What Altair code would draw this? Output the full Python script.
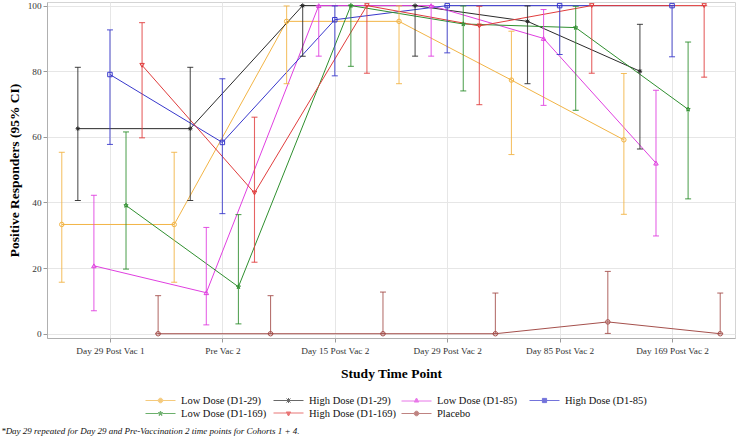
import altair as alt
import pandas as pd

# ---------------- data ----------------
timepoints = ["Day 29 Post Vac 1", "Pre Vac 2", "Day 15 Post Vac 2",
              "Day 29 Post Vac 2", "Day 85 Post Vac 2", "Day 169 Post Vac 2"]

series_names = ["Low Dose (D1-29)", "High Dose (D1-29)", "Low Dose (D1-85)",
                "High Dose (D1-85)", "Low Dose (D1-169)", "High Dose (D1-169)", "Placebo"]

colors = ["#F2B445", "#2B2B2B", "#E03FE0", "#3838CC", "#2F8F2F", "#E03C3C", "#A5504C"]

low29_val = [33.3, 33.3, 95.2, 95.2, 77.3, 59.1]
low29_lo = [15.7, 15.7, 76.2, 76.2, 54.6, 36.4]
low29_hi = [55.3, 55.3, 99.9, 99.9, 92.2, 79.3]

high29_val = [62.5, 62.5, 100.0, 100.0, 95.2, 80.0]
high29_lo = [40.6, 40.6, 84.6, 84.6, 76.2, 56.3]
high29_hi = [81.2, 81.2, 100.0, 100.0, 99.9, 94.3]

low85_val = [20.7, 12.5, 100.0, 100.0, 90.0, 52.0]
low85_lo = [7.0, 2.7, 84.6, 84.6, 69.6, 29.8]
low85_hi = [42.2, 32.4, 100.0, 100.0, 98.8, 74.2]

high85_val = [79.0, 58.3, 95.7, 100.0, 100.0, 100.0]
high85_lo = [57.7, 36.6, 78.6, 85.6, 85.1, 84.4]
high85_hi = [92.6, 77.7, 99.9, 100.0, 100.0, 100.0]

low169_val = [39.1, 14.3, 100.0, 94.4, 93.3, 68.4]
low169_lo = [19.7, 3.0, 81.5, 74.0, 68.1, 41.1]
low169_hi = [61.5, 36.3, 100.0, 99.9, 99.8, 88.9]

high169_val = [81.8, 42.9, 100.0, 93.8, 100.0, 100.0]
high169_lo = [59.7, 21.8, 79.4, 69.8, 79.4, 78.2]
high169_hi = [94.8, 66.0, 100.0, 99.8, 100.0, 100.0]

placebo_val = [0.0, 0.0, 0.0, 0.0, 3.6, 0.0]
placebo_lo = [0.0, 0.0, 0.0, 0.0, 0.1, 0.0]
placebo_hi = [11.6, 11.6, 12.7, 12.4, 19.0, 12.4]

footnote = "*Day 29 repeated for Day 29 and Pre-Vaccination 2 time points for Cohorts 1 + 4."

values = [low29_val, high29_val, low85_val, high85_val, low169_val, high169_val, placebo_val]
lows = [low29_lo, high29_lo, low85_lo, high85_lo, low169_lo, high169_lo, placebo_lo]
highs = [low29_hi, high29_hi, low85_hi, high85_hi, low169_hi, high169_hi, placebo_hi]

rows = []
for k, name in enumerate(series_names):
    for t in range(len(timepoints)):
        rows.append({"series": name, "k": k, "t": t,
                     "value": values[k][t], "lo": lows[k][t], "hi": highs[k][t]})
df = pd.DataFrame(rows)

# ---------------- styling ----------------
FONT = "Liberation Serif"

star = ("M0,-1L0.235,-0.324L0.951,-0.309L0.380,0.124L0.588,0.809L0,0.4"
        "L-0.588,0.809L-0.380,0.124L-0.951,-0.309L-0.235,-0.324Z")
asterisk = "M-1,0H1M0,-1V1M-0.7,-0.7L0.7,0.7M-0.7,0.7L0.7,-0.7"
point_shapes = ["circle", asterisk, "triangle-up", "square", star, "triangle-down", "circle"]

# legend symbols: a short line with the marker in the middle (1 unit = 5 px)
leg_circle = "M-3,0H-0.46M0.46,0H3M-0.46,0A0.46,0.46 0 1,0 0.46,0A0.46,0.46 0 1,0 -0.46,0"
leg_ast = "M-3,0H3M0,-0.5V0.5M-0.4,-0.4L0.4,0.4M-0.4,0.4L0.4,-0.4"
leg_tup = "M-3,0.1H-0.4M0.4,0.1H3M0,-0.5L0.46,0.3L-0.46,0.3Z"
leg_sq = "M-3,0H-0.42M0.42,0H3M-0.42,-0.42H0.42V0.42H-0.42Z"
leg_star = ("M-3,0H-0.45M0.45,0H3M0,-0.5L0.118,-0.162L0.476,-0.155L0.19,0.062L0.294,0.405L0,0.2"
            "L-0.294,0.405L-0.19,0.062L-0.476,-0.155L-0.118,-0.162Z")
leg_tdown = "M-3,-0.1H-0.4M0.4,-0.1H3M0,0.5L0.46,-0.3L-0.46,-0.3Z"
legend_paths = [leg_circle, leg_ast, leg_tup, leg_sq, leg_star, leg_tdown, leg_circle]

label_expr = "[" + ",".join("'" + s + "'" for s in timepoints) + "][datum.value]"

xscale = alt.Scale(domain=[-0.56, 5.56], nice=False, zero=False)
yscale = alt.Scale(domain=[-1.3, 101.1], nice=False, zero=False)
cscale = alt.Scale(domain=series_names, range=colors)
sscale = alt.Scale(domain=series_names, range=legend_paths)

x_axis = alt.Axis(values=list(range(len(timepoints))), labelExpr=label_expr,
                  title="Study Time Point", labelPadding=4, titlePadding=11,
                  labelFontSize=9.25, titleFontSize=13.5)
y_axis = alt.Axis(values=[0, 20, 40, 60, 80, 100], title="Positive Responders (95% CI)",
                  labelPadding=2, titlePadding=6, labelFontSize=9.25, titleFontSize=13.5)

legend = alt.Legend(title=None, orient="none", legendX=108, legendY=393,
                    columns=4, direction="horizontal",
                    symbolSize=100, symbolStrokeWidth=1, symbolFillColor="transparent",
                    labelOffset=15, labelFontSize=10.5, labelFont=FONT,
                    labelColor="#111111", columnPadding=3, rowPadding=2, gridAlign="all")

base = alt.Chart(df).transform_calculate(xpos="datum.t + (datum.k - 3) / 7")
X = alt.X("xpos:Q", scale=xscale, axis=x_axis)
C = alt.Color("series:N", scale=cscale, legend=None)

# first layer: draws no marks (all rows filtered out); it only provides the legend,
# whose entries come from the explicit scale domains
legend_layer = base.transform_filter("datum.t < 0").mark_point(
    filled=False, strokeWidth=1, fill="transparent").encode(
    x=X, y=alt.Y("value:Q", scale=yscale, axis=y_axis),
    color=alt.Color("series:N", scale=cscale, legend=legend),
    shape=alt.Shape("series:N", scale=sscale, legend=legend))

lines = base.mark_line(strokeWidth=1).encode(
    x=X, y=alt.Y("value:Q", scale=yscale, axis=y_axis), color=C, detail="series:N")
rules = base.mark_rule(strokeWidth=1.1, opacity=0.8).encode(
    x=X, y=alt.Y("lo:Q", scale=yscale), y2="hi:Q", color=C)
caps_lo = base.mark_tick(orient="horizontal", size=6, thickness=1, opacity=0.9).encode(
    x=X, y=alt.Y("lo:Q", scale=yscale), color=C)
caps_hi = base.mark_tick(orient="horizontal", size=6, thickness=1, opacity=0.9).encode(
    x=X, y=alt.Y("hi:Q", scale=yscale), color=C)

point_layers = []
for name, shp in zip(series_names, point_shapes):
    point_layers.append(
        base.transform_filter(alt.datum.series == name)
        .mark_point(filled=False, size=20, strokeWidth=1, opacity=1, shape=shp)
        .encode(x=X, y=alt.Y("value:Q", scale=yscale), color=C))

chart = alt.layer(legend_layer, lines, rules, caps_lo, caps_hi, *point_layers).properties(
    width=688, height=336,
    autosize=alt.AutoSizeParams(type="none"),
    padding={"left": 47, "top": 2, "right": 1, "bottom": 98},
    title=alt.Title(text=footnote, orient="bottom", anchor="start", frame="bounds",
                    fontSize=9, fontStyle="italic", font=FONT, fontWeight="normal",
                    color="#111111", offset=8, dx=-6),
    background="white",
).configure_view(stroke="#d4d4d4", strokeWidth=1).configure_axis(
    labelFont=FONT, titleFont=FONT, labelColor="#333333", titleColor="#000000",
    titleFontWeight="bold", domainColor="#b0b0b0", tickColor="#9a9a9a", tickSize=4,
    gridColor="#e6e6e6", gridWidth=1)

chart.save("out.html", embed_options={"renderer": "svg", "actions": False})
